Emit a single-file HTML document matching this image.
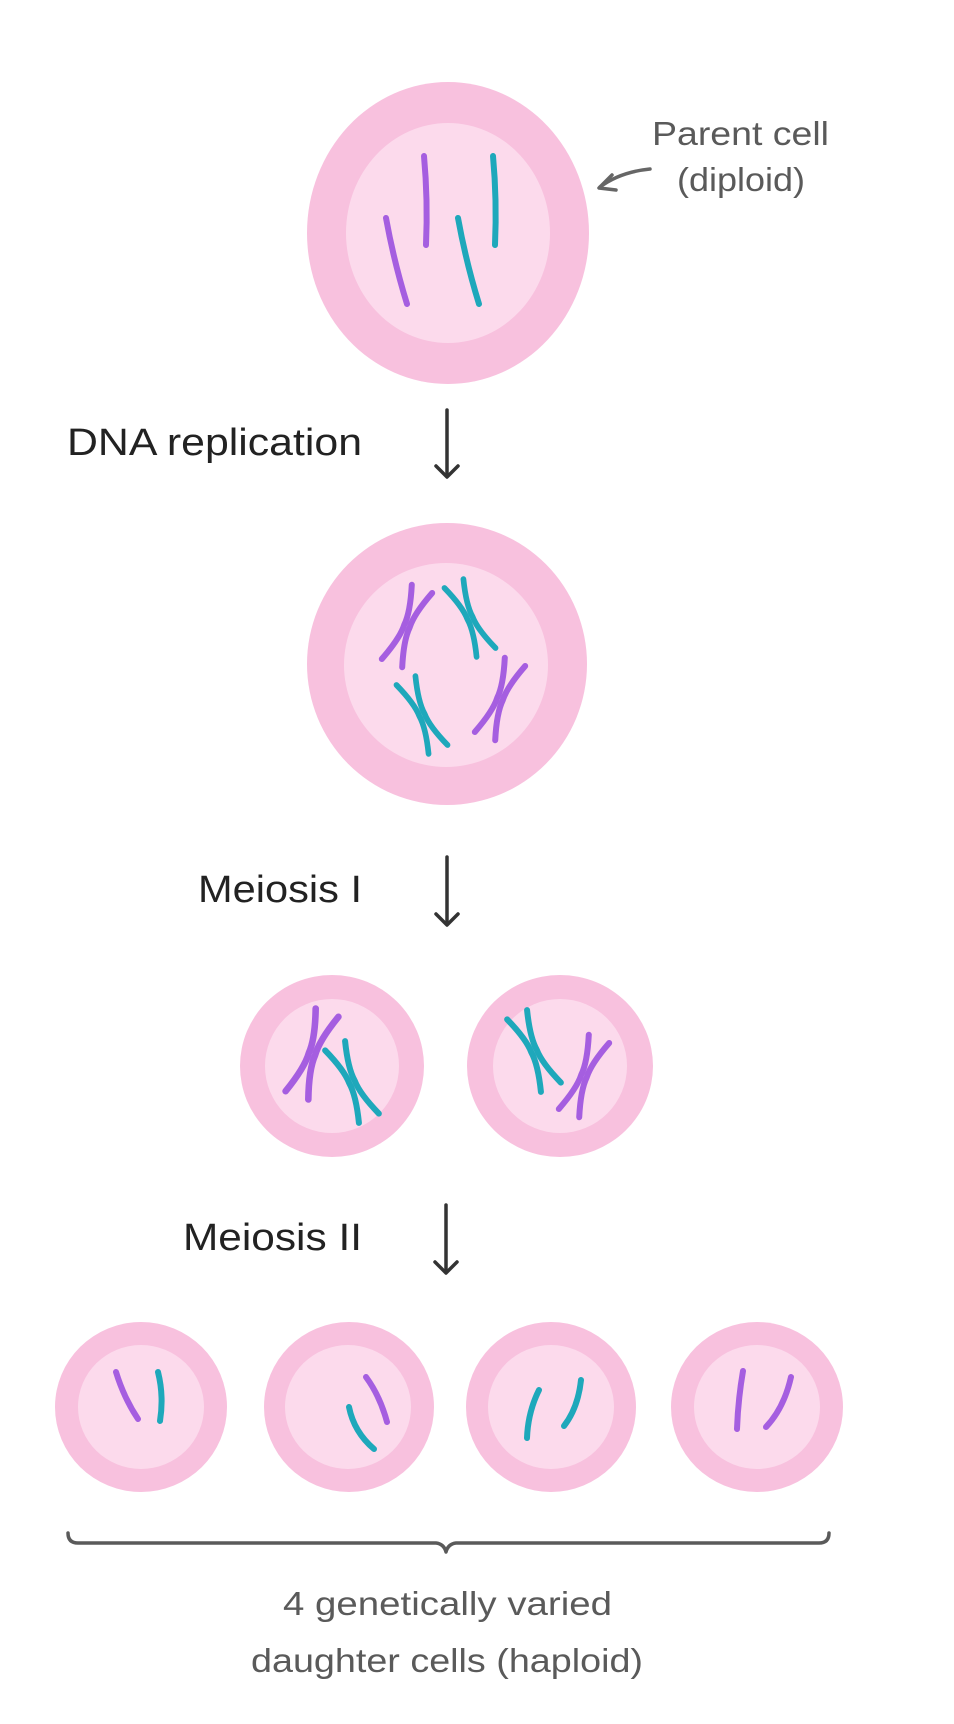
<!DOCTYPE html>
<html><head><meta charset="utf-8"><style>
html,body{margin:0;padding:0;background:#fff;}
svg{display:block;}
text{font-family:"Liberation Sans",sans-serif;}
</style></head><body>
<svg width="954" height="1724" viewBox="0 0 954 1724" xmlns="http://www.w3.org/2000/svg">
<defs>
<g id="xc" fill="none" stroke-linecap="round" stroke-width="6">
<path d="M-11,-40 Q-2,-14 -3,0 Q-2,14 -11,40"/>
<path d="M11,-40 Q2,-14 3,0 Q2,14 11,40"/>
</g>
</defs>
<rect width="954" height="1724" fill="#fff"/>

<ellipse cx="448" cy="233" rx="141" ry="151" fill="#f8c1de"/>
<ellipse cx="448" cy="233" rx="102" ry="110" fill="#fcdaec"/>
<g fill="none" stroke-linecap="round" stroke-width="6">
<path d="M386,218 Q394,262 407,304" stroke="#a55ee0"/>
<path d="M424,156 Q428,200 426,245" stroke="#a55ee0"/>
<path d="M458,218 Q466,262 479,304" stroke="#1ea8bb"/>
<path d="M493,156 Q497,200 495,245" stroke="#1ea8bb"/>
</g>
<text x="652" y="145" font-size="33" fill="#5a5a5a" textLength="177" lengthAdjust="spacingAndGlyphs">Parent cell</text>
<text x="677" y="191" font-size="33" fill="#5a5a5a" textLength="128" lengthAdjust="spacingAndGlyphs">(diploid)</text>
<g fill="none" stroke="#666" stroke-width="3.5" stroke-linecap="round" stroke-linejoin="round">
<path d="M650,169 Q620,172 600,187"/>
<path d="M612,175 L599,188 L616,190"/>
</g>

<text x="67" y="455" font-size="38" fill="#222" textLength="295" lengthAdjust="spacingAndGlyphs">DNA replication</text>
<g fill="none" stroke="#333" stroke-width="3.5" stroke-linecap="round" stroke-linejoin="round">
<path d="M447,410 L447,476"/><path d="M436,466 L447,477 L458,466"/>
</g>

<ellipse cx="447" cy="664" rx="140" ry="141" fill="#f8c1de"/>
<ellipse cx="446" cy="665" rx="102" ry="102" fill="#fcdaec"/>
<use href="#xc" transform="translate(407,626) rotate(22)" stroke="#a55ee0"/>
<use href="#xc" transform="translate(470,618) rotate(-25) scale(0.95)" stroke="#1ea8bb"/>
<use href="#xc" transform="translate(422,715) rotate(-25) scale(0.95)" stroke="#1ea8bb"/>
<use href="#xc" transform="translate(500,699) rotate(22)" stroke="#a55ee0"/>

<text x="198" y="902" font-size="38" fill="#222" textLength="164" lengthAdjust="spacingAndGlyphs">Meiosis I</text>
<g fill="none" stroke="#333" stroke-width="3.5" stroke-linecap="round" stroke-linejoin="round">
<path d="M447,857 L447,924"/><path d="M436,914 L447,925 L458,914"/>
</g>

<ellipse cx="332" cy="1066" rx="92" ry="91" fill="#f8c1de"/>
<ellipse cx="332" cy="1066" rx="67" ry="67" fill="#fcdaec"/>
<use href="#xc" transform="translate(312,1054) rotate(20) scale(1.1)" stroke="#a55ee0"/>
<use href="#xc" transform="translate(352,1082) rotate(-25) scale(1.0)" stroke="#1ea8bb"/>
<ellipse cx="560" cy="1066" rx="93" ry="91" fill="#f8c1de"/>
<ellipse cx="560" cy="1066" rx="67" ry="67" fill="#fcdaec"/>
<use href="#xc" transform="translate(534,1051) rotate(-25) scale(1.0)" stroke="#1ea8bb"/>
<use href="#xc" transform="translate(584,1076) rotate(22) scale(1.0)" stroke="#a55ee0"/>

<text x="183" y="1250" font-size="38" fill="#222" textLength="179" lengthAdjust="spacingAndGlyphs">Meiosis II</text>
<g fill="none" stroke="#333" stroke-width="3.5" stroke-linecap="round" stroke-linejoin="round">
<path d="M446,1205 L446,1272"/><path d="M435,1262 L446,1273 L457,1262"/>
</g>

<g fill="#f8c1de">
<ellipse cx="141" cy="1407" rx="86" ry="85"/>
<ellipse cx="349" cy="1407" rx="85" ry="85"/>
<ellipse cx="551" cy="1407" rx="85" ry="85"/>
<ellipse cx="757" cy="1407" rx="86" ry="85"/>
</g>
<g fill="#fcdaec">
<ellipse cx="141" cy="1407" rx="63" ry="62"/>
<ellipse cx="348" cy="1407" rx="63" ry="62"/>
<ellipse cx="551" cy="1407" rx="63" ry="62"/>
<ellipse cx="757" cy="1407" rx="63" ry="62"/>
</g>
<g fill="none" stroke-linecap="round" stroke-width="6">
<path d="M116,1372 Q124,1398 138,1419" stroke="#a55ee0"/>
<path d="M158,1372 Q164,1396 160,1421" stroke="#1ea8bb"/>
<path d="M366,1377 Q380,1396 387,1422" stroke="#a55ee0"/>
<path d="M349,1407 Q354,1432 374,1449" stroke="#1ea8bb"/>
<path d="M539,1390 Q528,1412 527,1438" stroke="#1ea8bb"/>
<path d="M581,1380 Q578,1408 564,1426" stroke="#1ea8bb"/>
<path d="M743,1371 Q738,1400 737,1429" stroke="#a55ee0"/>
<path d="M791,1377 Q784,1408 766,1427" stroke="#a55ee0"/>
</g>

<path d="M68,1533 Q68,1543 78,1543 L436,1543 Q444,1544 446,1552 Q448,1544 456,1543 L819,1543 Q829,1543 829,1533" fill="none" stroke="#5a5a5a" stroke-width="3.5" stroke-linecap="round" stroke-linejoin="round"/>

<text x="283" y="1615" font-size="33" fill="#5a5a5a" textLength="329" lengthAdjust="spacingAndGlyphs">4 genetically varied</text>
<text x="251" y="1672" font-size="33" fill="#5a5a5a" textLength="392" lengthAdjust="spacingAndGlyphs">daughter cells (haploid)</text>
</svg>
</body></html>
